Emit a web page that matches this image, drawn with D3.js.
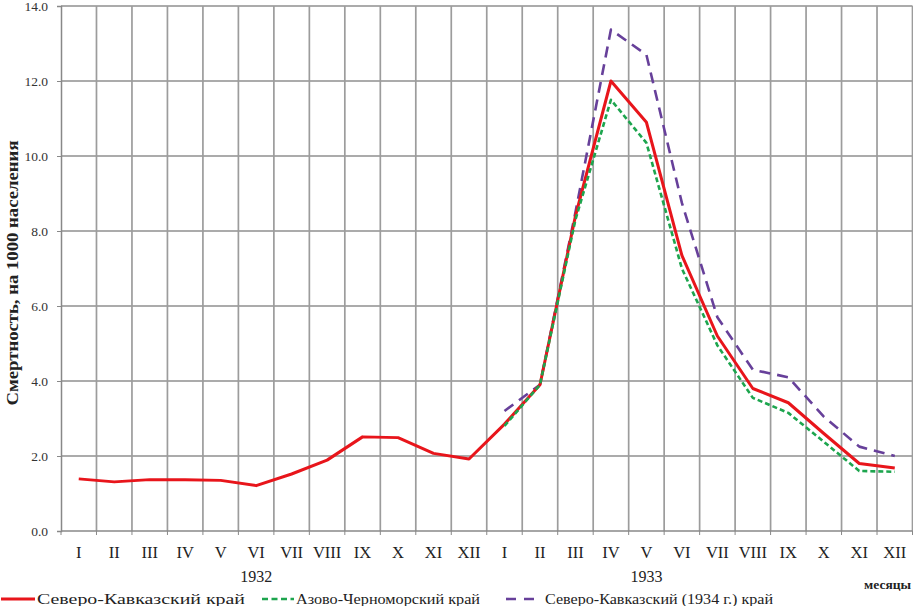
<!DOCTYPE html>
<html><head><meta charset="utf-8">
<script src="https://cdn.jsdelivr.net/npm/d3@7/dist/d3.min.js"></script>
<style>html,body{margin:0;padding:0;background:#fff;}svg{display:block;}</style>
</head><body>
<svg id="c" width="913" height="606"></svg>
<script>
const monthLabels = ["I","II","III","IV","V","VI","VII","VIII","IX","X","XI","XII","I","II","III","IV","V","VI","VII","VIII","IX","X","XI","XII"];
const yearLabels = [{year:"1932", idx:5},{year:"1933", idx:16}];
const yTicks = [0,2,4,6,8,10,12,14];
const severoKavkaz = [1.39,1.31,1.37,1.37,1.35,1.21,1.52,1.89,2.51,2.49,2.07,1.92, 2.85,3.9,8.4,12.0,10.9,7.35,5.2,3.8,3.42,2.6,1.8,1.68];
const azovChernomor = [null,null,null,null,null,null,null,null,null,null,null,null, 2.8,3.9,8.3,11.5,10.35,7.0,4.95,3.55,3.15,2.38,1.6,1.58];
const severoKavkaz1934 = [null,null,null,null,null,null,null,null,null,null,null,null, 3.2,3.9,8.5,13.37,12.7,8.75,5.7,4.3,4.1,3.05,2.25,2.0];
const seriesNames = ["Северо-Кавказский край","Азово-Черноморский край","Северо-Кавказский (1934 г.) край"];

const svg = d3.select("#c");
const L = 61, R = 912.5, T = 6, B = 531;
const x = d3.scaleBand().domain(d3.range(monthLabels.length)).range([L, R]).padding(0);
const y = d3.scaleLinear().domain([0,14]).range([B, T]);
const serif = "Liberation Serif";
const gridCol = "#8f8f8f";

// horizontal grid
svg.append("g").selectAll("line").data(yTicks.filter(d=>d>0)).join("line")
  .attr("x1", L).attr("x2", R).attr("y1", d=>y(d)).attr("y2", d=>y(d))
  .attr("stroke", gridCol).attr("stroke-width", 1.3);
// vertical grid at band boundaries
const bounds = d3.range(monthLabels.length+1).map(i => i < monthLabels.length ? x(i) : R);
svg.append("g").selectAll("line").data(bounds.slice(1)).join("line")
  .attr("x1", d=>d).attr("x2", d=>d).attr("y1", T).attr("y2", B)
  .attr("stroke", "#9c9c9c").attr("stroke-width", 1.7);

// y axis
const yAxis = d3.axisLeft(y).tickValues(yTicks).tickFormat(d3.format(".1f")).tickSize(4).tickPadding(9);
const gy = svg.append("g").attr("transform", `translate(${L},0)`).call(yAxis);
gy.attr("font-family", serif);
gy.select(".domain").attr("stroke", "#888").attr("stroke-width", 1.5);
gy.selectAll(".tick line").attr("stroke", "#888");
gy.selectAll("text").attr("font-family", serif).attr("font-size", 13.5).attr("fill", "#333");

// x axis (ticks at boundaries)
const gx = svg.append("g").attr("transform", `translate(0,${B})`);
gx.append("line").attr("x1", L).attr("x2", R).attr("stroke", "#888").attr("stroke-width", 1.5);
gx.selectAll("line.tk").data(bounds).join("line").attr("class","tk")
  .attr("x1", d=>d).attr("x2", d=>d).attr("y1", 0).attr("y2", 4).attr("stroke", "#888");
gx.selectAll("text").data(monthLabels).join("text")
  .attr("x", (d,i)=>x(i)+x.bandwidth()/2).attr("y", 27)
  .attr("text-anchor","middle").attr("font-family", serif).attr("font-size", 16.5).attr("fill","#222")
  .text(d=>d);
svg.selectAll("text.yr").data(yearLabels).join("text").attr("class","yr")
  .attr("x", d=>x(d.idx)+x.bandwidth()/2).attr("y", 582)
  .attr("text-anchor","middle").attr("font-family", serif).attr("font-size", 16).attr("fill","#222")
  .text(d=>d.year);
svg.append("text").attr("x", 911).attr("y", 589).attr("text-anchor","end")
  .attr("font-family", serif).attr("font-size", 13.5).attr("font-weight","bold").attr("fill","#222")
  .text("месяцы");

// y title
svg.append("text").attr("transform", "translate(18,273) rotate(-90)")
  .attr("text-anchor","middle").attr("font-family", serif).attr("font-size", 16).attr("font-weight","bold").attr("fill","#222")
  .attr("textLength", 265).attr("lengthAdjust","spacingAndGlyphs")
  .text("Смертность, на 1000 населения");

// lines
const line = d3.line().defined(d=>d!=null).x((d,i)=>x(i)+x.bandwidth()/2).y(d=>y(d));
const styles = [
  {data: severoKavkaz, color:"#e8151b", w:3, dash:null},
  {data: azovChernomor, color:"#1da54e", w:2.6, dash:"5,3"},
  {data: severoKavkaz1934, color:"#67409a", w:2.6, dash:"11,7"}
];
const drawOrder = [2,0,1];
drawOrder.forEach(k => {
  const s = styles[k];
  const p = svg.append("path").datum(s.data).attr("d", line)
    .attr("fill","none").attr("stroke", s.color).attr("stroke-width", s.w)
    .attr("stroke-linejoin","round");
  if (s.dash) p.attr("stroke-dasharray", s.dash);
});

// legend
const legend = [
  {x0:1, x1:35, tx:37, tl:208},
  {x0:262, x1:294, tx:296, tl:184},
  {x0:506, x1:540, tx:545, tl:228}
];
legend.forEach((g,k) => {
  const s = styles[k];
  const ln = svg.append("line").attr("x1", g.x0).attr("x2", g.x1).attr("y1", 599).attr("y2", 599)
    .attr("stroke", s.color).attr("stroke-width", s.w);
  if (s.dash) ln.attr("stroke-dasharray", k===1 ? "6,3.5" : "10,8");
  svg.append("text").attr("x", g.tx).attr("y", 604).attr("font-family", serif).attr("font-size", 15)
    .attr("fill","#222").attr("textLength", g.tl).attr("lengthAdjust","spacingAndGlyphs")
    .text(seriesNames[k]);
});
</script>
</body></html>
